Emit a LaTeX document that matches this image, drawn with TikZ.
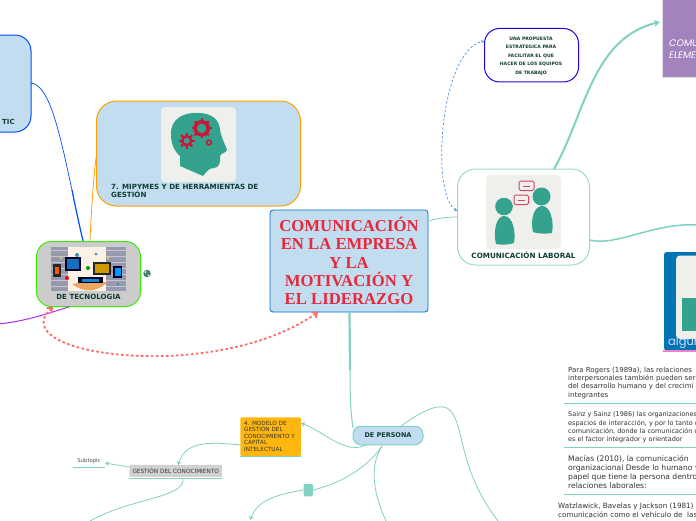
\documentclass[tikz,border=0pt]{standalone}
\usepackage{fontspec}
\usepackage{tikz}
\usetikzlibrary{arrows.meta}
\newfontfamily\mapfont{DejaVu Sans}
\newfontfamily\headfont{Liberation Serif}
\newfontfamily\lightfont{Poppins}
\definecolor{topicblue}{HTML}{C2DDF0}
\definecolor{linkteal}{HTML}{82D0C2}
\definecolor{darkgreen}{HTML}{0F3D34}
\definecolor{headteal}{HTML}{34A38D}
\definecolor{gearred}{HTML}{C8173A}
\definecolor{iconback}{HTML}{EFF0EB}
\definecolor{lilac}{HTML}{A283BE}
\definecolor{seablue}{HTML}{0075B5}
\definecolor{amber}{HTML}{FFB70F}
\definecolor{titlered}{HTML}{E8283A}
\definecolor{dashblue}{HTML}{4A90E2}
\definecolor{linkpurple}{HTML}{B030F0}
\definecolor{dashred}{HTML}{FF6B6B}
\begin{document}
\begin{tikzpicture}[
        x=1pt,y=-1pt,
        topic/.style 2 args = {draw, rounded corners=#2, minimum width=#1, inner sep=0pt, outer sep=0pt, line width=1pt},
        boldtext/.style = {font=\mapfont\bfseries\fontsize{#1}{8}\selectfont, text=darkgreen, inner sep=0pt, align=left},
        notetext/.style = {font=\mapfont\fontsize{#1}{8.4}\selectfont, text=black!80, inner sep=0pt, align=left, anchor=north west},
        link/.style = {draw=linkteal, line width=#1},
        link/.default = 0.8pt,
        tip/.style = {-{Stealth[length=4pt,width=5pt]}},
        noterule/.style = {draw=linkteal, line width=1pt},
    ]
    \clip (0,0) rectangle (696,520);
    \fill[white] (0,0) rectangle (696,520);

    % TIC
    \node[topic={91pt}{16pt}, minimum height=97pt, draw=blue!70!cyan, fill=topicblue] (tic) at (-14.5,83.5) {};
    \node[boldtext=7, anchor=west] (tictext) at (2,122) {TIC};

    % 7. MIPYMES
    \node[topic={204pt}{20pt}, minimum height=105pt, draw=orange!75!yellow, fill=topicblue] (mipymes) at (198.5,153.5) {};
    \node[boldtext=7.1, anchor=north west] (mipymestext) at (111,184) {7. MIPYMES Y DE HERRAMIENTAS DE\\GESTIÓN};
    \node[fill=iconback, rounded corners=4pt, minimum width=75pt, minimum height=75pt, inner sep=0pt] (headicon) at (198.5,144.5) {};
    \fill[headteal] (171,135) .. controls (170,118) and (185,112) .. (198,113) .. controls (212,113) and (219,120) .. (220,129) .. controls (221,138) and (226,146) .. (227,150) .. controls (226,153) and (221,153) .. (220,156) .. controls (221,162) and (219,168) .. (214,168) .. controls (209,168) and (207,171) .. (203,176) -- (180,166) -- (180,156) .. controls (174,151) and (171,143) .. (171,135) -- cycle;
    % gears
    \foreach \gx/\gy/\gr/\gw in {201.7/128.3/6.5/3.6,186.7/140.7/4.5/2.6}{
        \draw[gearred, line width=\gw pt] (\gx,\gy) circle (\gr);
        \foreach \ga in {0,45,...,315}
            \draw[gearred, line width=2.2pt] (\gx,\gy) ++(\ga:\gr+1) -- ++(\ga:2.4);
    }
    \draw[gearred, line width=1.6pt] (209,142.5) circle (2.4);

    % Titulo
    \node[draw=blue!45!cyan!80!black, fill=topicblue, rounded corners=3pt, line width=0.8pt, minimum width=158pt, minimum height=102pt, inner sep=0pt, font=\headfont\bfseries\fontsize{16.7}{18.1}\selectfont, text=titlered, align=center] (title) at (349,261) {COMUNICACIÓN\\EN LA EMPRESA\\Y LA\\MOTIVACIÓN Y\\EL LIDERAZGO};

    % Comunicacion laboral
    \node[topic={132pt}{18pt}, minimum height=96pt, draw=linkteal!80!white, fill=white] (laboral) at (523.5,217) {};
    \node[fill=iconback, rounded corners=4pt, minimum width=75pt, minimum height=74pt, inner sep=0pt] (peopleicon) at (523.5,212) {};
    \fill[headteal] (504,206.5) circle (8.8) (541.5,196.5) circle (9);
    \fill[headteal] (496,244) .. controls (493,232) and (496,216) .. (504,216) .. controls (513,216) and (516,232) .. (514,243) .. controls (508,245) and (502,245) .. (496,244) -- cycle;
    \fill[headteal] (533,232) .. controls (530,220) and (534,206) .. (542,206) .. controls (551,206) and (554,222) .. (552,233) .. controls (546,234) and (538,234) .. (533,232) -- cycle;
    \draw[gearred!80!white, fill=iconback, rounded corners=1.5pt, line width=1pt] (519,181) rectangle (534,190.5);
    \draw[gearred!80!white, fill=iconback, rounded corners=1.5pt, line width=1pt] (514,195) rectangle (528.5,204.5);
    \draw[gearred!80!white, line width=0.8pt] (523,186) -- (530,186) (518,200) -- (525,200);
    \node[boldtext=7.2, anchor=center] (laboraltext) at (523.5,255.5) {COMUNICACIÓN LABORAL};

    % Propuesta
    \node[topic={94pt}{15pt}, minimum height=53.5pt, draw=blue!85!red, fill=white] (propuesta) at (531.5,55.2) {};
    \node[boldtext=4.6, anchor=center, align=center, font=\mapfont\bfseries\fontsize{4.6}{8.4}\selectfont] (propuestatext) at (531,56) {UNA PROPUESTA\\ESTRATEGICA PARA\\FACILITAR EL QUE\\HACER DE LOS EQUIPOS\\DE TRABAJO};

    % Purpura
    \node[draw=lilac!30!white, fill=lilac, line width=1pt, minimum width=60pt, minimum height=98pt, inner sep=0pt, anchor=south west] (elementos) at (662,78) {};
    \node[font=\lightfont\itshape\fontsize{9.5}{12}\selectfont, text=white, anchor=north west, inner sep=0pt, align=left] (elementostext) at (669,39.5) {COMU\\ELEME};

    % algun
    \node[fill=seablue, rounded corners=2pt, minimum width=60pt, minimum height=98pt, inner sep=0pt, anchor=north west] (algun) at (664,252) {};
    \fill[iconback, rounded corners=4pt] (676,255.5) rectangle (710,339);
    \fill[headteal] (682,298) rectangle (710,331);
    \node[font=\lightfont\fontsize{11.5}{12}\selectfont, text=white!85!blue, anchor=west, inner sep=0pt] (alguntext) at (668,342.5) {algun};
    \draw[magenta!50!white, line width=1.6pt] (663,351) -- (700,351);

    % Tecnologia
    \node[topic={104pt}{15pt}, minimum height=65pt, draw=green!90!black!70!lime, fill=black!20] (tecnologia) at (88.5,274) {};
    \node[fill=blue!20!black!40, minimum width=75pt, minimum height=44pt, inner sep=0pt] (techicon) at (88.5,269) {};
    \foreach \sy in {250,256,...,288}
        \draw[white!70!blue!60!black!40, line width=1pt] (51,\sy) -- (126,\sy);
    \fill[black!12!orange!10!white] (68,247) rectangle (106,291);
    \fill[orange!55!brown!70!white] (72,284) .. controls (85,293) and (95,293) .. (108,282) -- (100,282) -- (78,283) -- cycle;
    \fill[black!85!blue] (65,257) rectangle (81,271);
    \fill[cyan!50!blue] (67,259) rectangle (79,269);
    \fill[black!85] (93,262) rectangle (111,275);
    \fill[orange!80!green] (95,264) rectangle (109,273);
    \fill[black!85] (53,264) rectangle (61,277);
    \fill[orange!70!red] (55,267) rectangle (59,274);
    \fill[black!85!blue] (113,266) rectangle (122,278);
    \fill[blue!40!cyan] (114.5,268) rectangle (120.5,276);
    \fill[black!85!blue] (78,277) rectangle (103,283);
    \fill[cyan!70!blue] (82,278.5) rectangle (99,281.5);
    \fill[red] (67,278) circle (2);
    \fill[green!60!black] (88,268) circle (2);
    \fill[cyan!70!black] (77,255) circle (2) (96,254) circle (1.5) (118,284) circle (1.5);
    \fill[yellow!80!orange] (61,258) circle (1.2) (108,258) circle (1.2);
    \node[boldtext=7.1, anchor=center] (tecnologiatext) at (88.5,297) {DE TECNOLOGIA};
    \node[circle, fill=black!60!cyan!70!green, minimum size=7.5pt, inner sep=0pt] (globe) at (147,273.5) {};
    \fill[white!80!green] (145.5,272) circle (1.1) (148.5,275.5) circle (0.9);

    % De persona y ramas
    \node[topic={70pt}{8pt}, minimum height=18.5pt, draw=linkteal, fill=topicblue] (persona) at (388,435.5) {};
    \node[boldtext=6.5, anchor=center] (personatext) at (388,435.5) {DE PERSONA};
    \node[fill=amber, rounded corners=1pt, minimum width=60.5pt, minimum height=38.5pt, inner sep=0pt] (modelo) at (270.7,436.7) {};
    \node[font=\mapfont\fontsize{5.7}{6.4}\selectfont, text=black!80, inner sep=0pt, align=left, anchor=north west] (modelotext) at (244,421) {4. MODELO DE\\GESTIÓN DEL\\CONOCIMIENTO Y\\CAPITAL\\INTELECTUAL};
    \draw[noterule] (modelo.south west) -- (modelo.south east);
    \node[fill=black!18, rounded corners=1pt, minimum width=92.5pt, minimum height=12pt, inner sep=0pt, font=\mapfont\fontsize{5.75}{6}\selectfont, text=black!80] (gestion) at (175.7,470.8) {GESTIÓN DEL CONOCIMIENTO};
    \draw[noterule] ([yshift=-1pt]gestion.south west) -- ([yshift=-1pt]gestion.south east);
    \node[font=\mapfont\fontsize{5.3}{6}\selectfont, text=black!70, inner sep=0pt] (subtopic) at (89,461) {Subtopic};
    \draw[noterule] (73,467.5) -- (105,467.5);
    \node[fill=linkteal, rounded corners=1.5pt, minimum width=9.5pt, minimum height=12.5pt, inner sep=0pt] (enlace) at (308.3,490) {};

    % Conectores
    \coordinate (modeloend) at (301,423);
    \coordinate (subend) at (105,463);
    \coordinate (gestend) at (90,521);
    \coordinate (enlaceend) at (250,520);
    \coordinate (downend) at (386,521);
    \coordinate (rightend) at (498,521);
    \coordinate (purpleend) at (-2,324);
    \coordinate (purpleto) at (660,22);
    \coordinate (rightto) at (698,225);
    \draw[link=0.8pt] (428,221) .. controls (438,218) and (448,217) .. (laboral.west |- 0,217);
    \draw[link=2pt, -{Stealth[length=6pt,width=7pt]}] (554,169) .. controls (585,115) and (592,38) .. (purpleto);
    \draw[link=1.5pt] (590,240) .. controls (615,247) and (655,222) .. (rightto);
    \draw[link=2.2pt] (349.5,312) -- (350,370);
    \draw[link=1pt] (350,370) .. controls (350,400) and (351,415) .. (353,428);
    \draw[link=0.8pt, tip] (366,445) .. controls (345,455) and (325,432) .. (modeloend);
    \draw[link=0.8pt, tip] (modelo.west |- 0,445) .. controls (205,441) and (185,443) .. (178,465);
    \draw[link=0.8pt, tip] (129,467) -- (subend);
    \draw[link=0.8pt] (183,478) .. controls (186,498) and (130,498) .. (gestend);
    \draw[link=0.8pt] (382,446) .. controls (365,470) and (340,483) .. (enlace.east);
    \draw[link=0.8pt, tip] (enlace.west) .. controls (275,495) and (258,500) .. (enlaceend);
    \draw[link=0.8pt] (382,446) .. controls (370,465) and (372,490) .. (downend);
    \draw[link=0.8pt] (401,426) .. controls (418,414) and (436,403) .. (447,408) .. controls (466,420) and (455,465) .. (rightend);
    % azul y naranja
    \draw[blue!70!cyan, line width=0.7pt] (tic.east |- 0,83) .. controls (50,85) and (60,135) .. (72,190);
    \draw[blue!70!cyan, line width=1.2pt] (72,190) .. controls (76,210) and (80,228) .. (83,241);
    \draw[orange!75!yellow, line width=0.8pt] (mipymes.west |- 0,155) .. controls (94,170) and (91,215) .. (90,241);
    \draw[linkpurple, line width=1pt] (tecnologia.240) .. controls (35,318) and (18,322) .. (purpleend);
    % discontinuas
    \draw[dashblue, line width=0.7pt, dash pattern=on 2.4pt off 2pt, {Stealth[length=3.5pt]}-{Stealth[length=3.5pt]}] (laboral.west |- 0,211) .. controls (430,195) and (440,50) .. (propuesta.west |- 0,41);
    \draw[dashred, line width=1.8pt, dash pattern=on 2.6pt off 2.4pt, {Straight Barb[length=4pt,width=7pt]}-{Straight Barb[length=4pt,width=7pt]}] (53,307) .. controls (0,355) and (215,385) .. (318,312);

    % Notas
    \node[notetext=7] (rogers) at (568,366.5) {Para Rogers (1989a), las relaciones\\interpersonales también pueden ser\\del desarrollo humano y del crecimi\\integrantes};
    \draw[noterule] (564,403) -- (700,403);
    \node[notetext=6.5] (sainz) at (568,411.5) {Sainz y Sainz (1986) las organizaciones\\espacios de interacción, y por lo tanto d\\comunicación, donde la comunicación d\\es el factor integrador y orientador};
    \draw[noterule] (564,447) -- (700,447);
    \node[notetext=7.6, font=\mapfont\fontsize{7.6}{9.2}\selectfont] (macias) at (568,455) {Macías (2010), la comunicación\\organizacional Desde lo humano v\\papel que tiene la persona dentro\\relaciones laborales:};
    \draw[noterule] (564,494) -- (700,494);
    \node[notetext=7.2, font=\mapfont\fontsize{7.2}{9}\selectfont] (watzlawick) at (558,502.5) {Watzlawick, Bavelas y Jackson (1981) l\\comunicación como el vehículo de\ \ las};
\end{tikzpicture}
\end{document}
